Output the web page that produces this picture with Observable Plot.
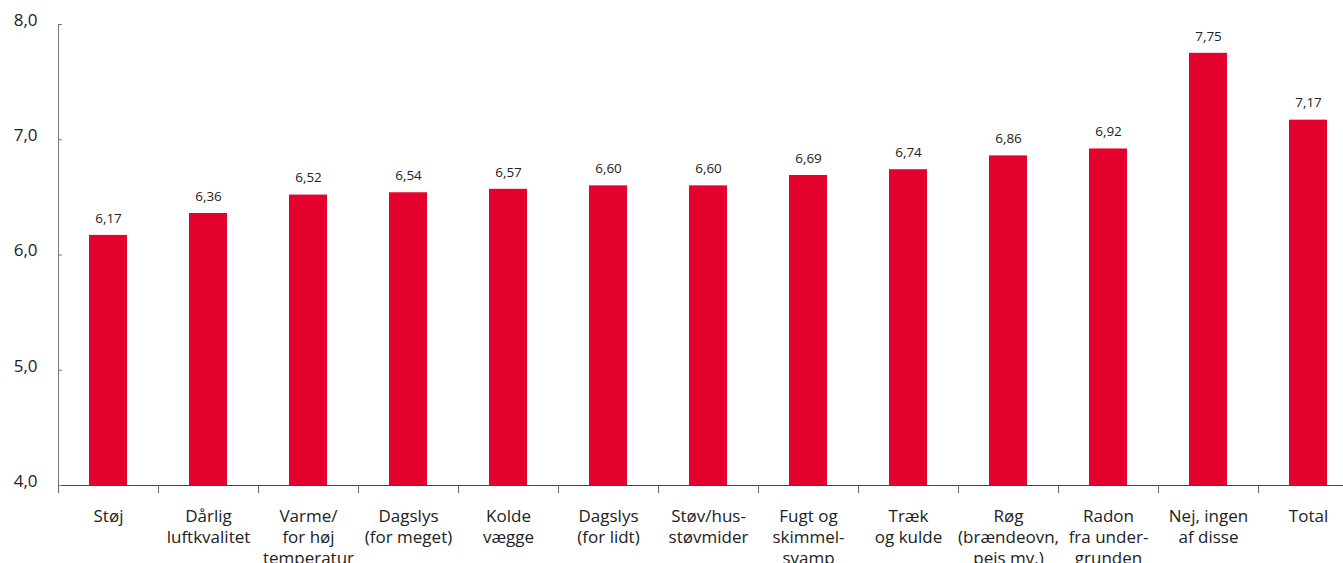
<!DOCTYPE html>
<html><head><meta charset="utf-8">
<script src="https://cdn.jsdelivr.net/npm/d3@7"></script>
<script src="https://cdn.jsdelivr.net/npm/@observablehq/plot@0.6"></script>
<style>body{margin:0;background:#fff;} svg{display:block}</style>
</head><body><div id="chart"></div>
<script>
const categories = [
  "Støj",
  "Dårlig\nluftkvalitet",
  "Varme/\nfor høj\ntemperatur",
  "Dagslys\n(for meget)",
  "Kolde\nvægge",
  "Dagslys\n(for lidt)",
  "Støv/hus-\nstøvmider",
  "Fugt og\nskimmel-\nsvamp",
  "Træk\nog kulde",
  "Røg\n(brændeovn,\npejs mv.)",
  "Radon\nfra under-\ngrunden",
  "Nej, ingen\naf disse",
  "Total"
];
const values = [6.17, 6.36, 6.52, 6.54, 6.57, 6.60, 6.60, 6.69, 6.74, 6.86, 6.92, 7.75, 7.17];
const yTicks = [4, 5, 6, 7, 8];

const data = categories.map((c, i) => ({category: c, value: values[i]}));
const fmt2 = d => d.toFixed(2).replace(".", ",");
const fmt1 = d => d.toFixed(1).replace(".", ",");

const chart = Plot.plot({
  width: 1343, height: 563,
  marginLeft: 58, marginRight: 0, marginTop: 24, marginBottom: 78,
  style: {fontFamily: "'Open Sans'", color: "#222", background: "#fff"},
  x: {domain: categories, range: [58, 1358], padding: 0},
  y: {domain: [4, 8], ticks: yTicks},
  marks: [
    Plot.barY(data, {x: "category", y1: 4, y2: "value", fill: "#e4032e", insetLeft: 31, insetRight: 31}),
    Plot.text(data, {x: "category", y: "value", text: d => fmt2(d.value), dy: -17, fontSize: 13.5, fill: "#222"}),
    Plot.frame({anchor: "left", stroke: "#777"}),
    Plot.frame({anchor: "bottom", stroke: "#444"}),
    Plot.axisY({ticks: yTicks, tickSize: -4, tickFormat: () => "", label: null, stroke: "#777"}),
    Plot.axisY({ticks: yTicks, tickSize: 0, tickPadding: 21, tickFormat: fmt1, fontSize: 17, dy: -4, label: null, fill: "#222"}),
    Plot.axisX({tickSize: 8, tickFormat: () => "", dx: -50, label: null, stroke: "#666"}),
    Plot.axisX({tickSize: 0, tickPadding: 22, lineAnchor: "top", lineHeight: 1.22, fontSize: 17, label: null, fill: "#222"})
  ]
});
document.getElementById("chart").append(chart);
</script>
</body></html>
